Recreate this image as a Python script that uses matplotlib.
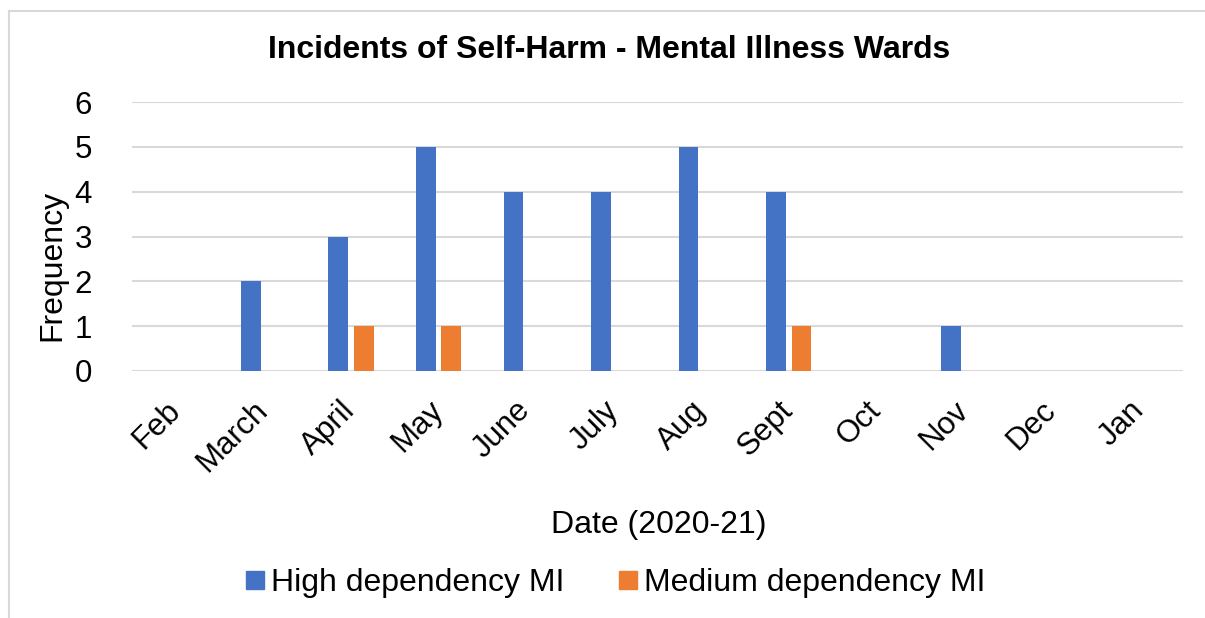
import matplotlib
matplotlib.use("Agg")
import matplotlib.pyplot as plt
import numpy as np
from matplotlib.lines import Line2D

plt.rcParams['font.family'] = ['Liberation Sans', 'DejaVu Sans']

months = ["Feb", "March", "April", "May", "June", "July", "Aug", "Sept", "Oct", "Nov", "Dec", "Jan"]
high_dep = [0, 2, 3, 5, 4, 4, 5, 4, 0, 1, 0, 0]
medium_dep = [0, 0, 1, 1, 0, 0, 0, 1, 0, 0, 0, 0]
series_names = ["High dependency MI", "Medium dependency MI"]
colors = ["#4472C4", "#ED7D31"]

W, H = 1205, 618
fig = plt.figure(figsize=(W / 100, H / 100), dpi=100)
ax = fig.add_axes([132 / W, 1 - 371 / H, (1183 - 132) / W, (371 - 102) / H])

x = np.arange(len(months))
bw = 0.225
off = 0.145
ax.bar(x - off, high_dep, width=bw, color=colors[0], label=series_names[0], zorder=3)
ax.bar(x + off, medium_dep, width=bw, color=colors[1], label=series_names[1], zorder=3)

ax.set_xlim(-0.5, len(months) - 0.5)
ax.set_ylim(0, 6)
ax.set_yticks(range(0, 7))
ax.yaxis.grid(True, color="#D9D9D9", linewidth=1.5, zorder=0)
for s in ax.spines.values():
    s.set_visible(False)
ax.tick_params(axis='both', length=0, labelsize=22.5)
ax.tick_params(axis='y', pad=29)
ax.set_xticks(x)
ax.set_xticklabels(months, rotation=45, ha='right', va='center', rotation_mode='anchor')
ax.tick_params(axis='x', pad=25)

fig.text(609 / W, 1 - 50 / H, "Incidents of Self-Harm - Mental Illness Wards",
         ha='center', va='center', fontsize=23, fontweight='bold')
fig.text(659 / W, 1 - 525 / H, "Date (2020-21)", ha='center', va='center', fontsize=23)
fig.text(52 / W, 1 - 265 / H, "Frequency", ha='center', va='center', rotation=90, fontsize=23)

handles = [Line2D([], [], marker='s', linestyle='', markersize=12.5, color=c) for c in colors]
fig.legend(handles, series_names, loc='center', bbox_to_anchor=(614 / W, 1 - 583 / H),
           ncol=2, frameon=False, fontsize=23, handletextpad=0.1, columnspacing=1.6,
           handlelength=0.8)

# outer chart border
border = dict(color="#D9D9D9", linewidth=1.5, transform=fig.transFigure)
fig.add_artist(Line2D([8.5 / W, 8.5 / W], [0, 1 - 10.5 / H], **border))
fig.add_artist(Line2D([8.5 / W, 1], [1 - 10.5 / H, 1 - 10.5 / H], **border))

fig.savefig("out.png", dpi=100)
